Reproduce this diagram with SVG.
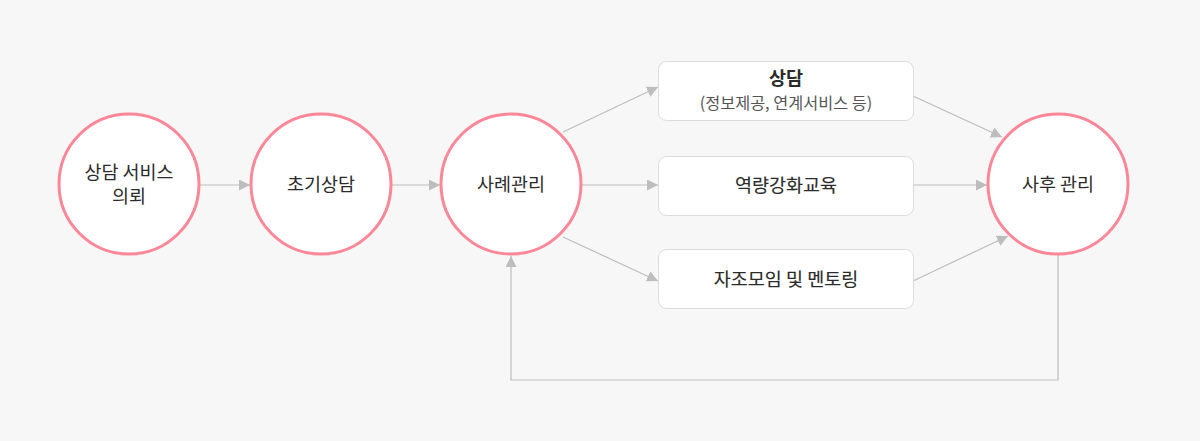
<svg xmlns="http://www.w3.org/2000/svg" width="1200" height="441" viewBox="0 0 1200 441">
<style>
.bg{fill:#f7f7f7}
.circ{fill:#ffffff;stroke:#fb8799;stroke-width:3}
.box{fill:#ffffff;stroke:#dcdcdc;stroke-width:1}
.t{font-family:"Noto Sans CJK KR","Noto Sans",sans-serif;font-size:18.5px;fill:#2b2b2b;text-anchor:middle}
.tb{font-family:"Noto Sans CJK KR","Noto Sans",sans-serif;font-size:18.5px;fill:#2b2b2b;stroke:#2b2b2b;stroke-width:0.15;text-anchor:middle}
.tbb{font-family:"Noto Sans CJK KR","Noto Sans",sans-serif;font-size:18.5px;font-weight:700;fill:#2b2b2b;text-anchor:middle}
.ts{font-family:"Noto Sans CJK KR","Noto Sans",sans-serif;font-size:16.3px;fill:#555555;text-anchor:middle}
.ln{fill:none;stroke:#bdbdbd;stroke-width:1.2}
</style>
<defs>
<marker id="ah" markerUnits="userSpaceOnUse" markerWidth="11" markerHeight="11" refX="10" refY="5" orient="auto" viewBox="0 0 10 10">
<path d="M0,0 L10,5 L0,10 z" fill="#bdbdbd"/>
</marker>
</defs>
<rect class="bg" x="0" y="0" width="1200" height="441"/>
<g id="connectors">
<line class="ln" x1="200" y1="185" x2="250" y2="185" marker-end="url(#ah)"/>
<line class="ln" x1="392" y1="185" x2="440" y2="185" marker-end="url(#ah)"/>
<line class="ln" x1="563" y1="132" x2="658" y2="87" marker-end="url(#ah)"/>
<line class="ln" x1="582" y1="185" x2="658" y2="185" marker-end="url(#ah)"/>
<line class="ln" x1="563" y1="237" x2="658" y2="281" marker-end="url(#ah)"/>
<line class="ln" x1="913" y1="96" x2="1002" y2="137" marker-end="url(#ah)"/>
<line class="ln" x1="913" y1="185" x2="987" y2="185" marker-end="url(#ah)"/>
<line class="ln" x1="913" y1="281" x2="1008" y2="236" marker-end="url(#ah)"/>
<polyline class="ln" points="1058,255 1058,380 511,380 511,256" marker-end="url(#ah)"/>
</g>
<g id="node-request">
<circle class="circ" cx="129" cy="184" r="70"/>
<text class="t" x="129" y="179">상담 서비스</text>
<text class="t" x="129" y="203">의뢰</text>
</g>
<g id="node-initial">
<circle class="circ" cx="321" cy="184" r="70"/>
<text class="t" x="321" y="191">초기상담</text>
</g>
<g id="node-case">
<circle class="circ" cx="511" cy="184" r="70"/>
<text class="t" x="511" y="191">사례관리</text>
</g>
<g id="node-counsel">
<rect class="box" x="658.5" y="61.5" width="255" height="59" rx="8"/>
<text class="tbb" x="786" y="85">상담</text>
<text class="ts" x="786" y="109">(정보제공, 연계서비스 등)</text>
</g>
<g id="node-edu">
<rect class="box" x="658.5" y="156.5" width="255" height="59" rx="8"/>
<text class="tb" x="786" y="192">역량강화교육</text>
</g>
<g id="node-mentor">
<rect class="box" x="658.5" y="249.5" width="255" height="59" rx="8"/>
<text class="tb" x="786" y="286">자조모임 및 멘토링</text>
</g>
<g id="node-after">
<circle class="circ" cx="1058" cy="184" r="70"/>
<text class="t" x="1058" y="191">사후 관리</text>
</g>
</svg>
